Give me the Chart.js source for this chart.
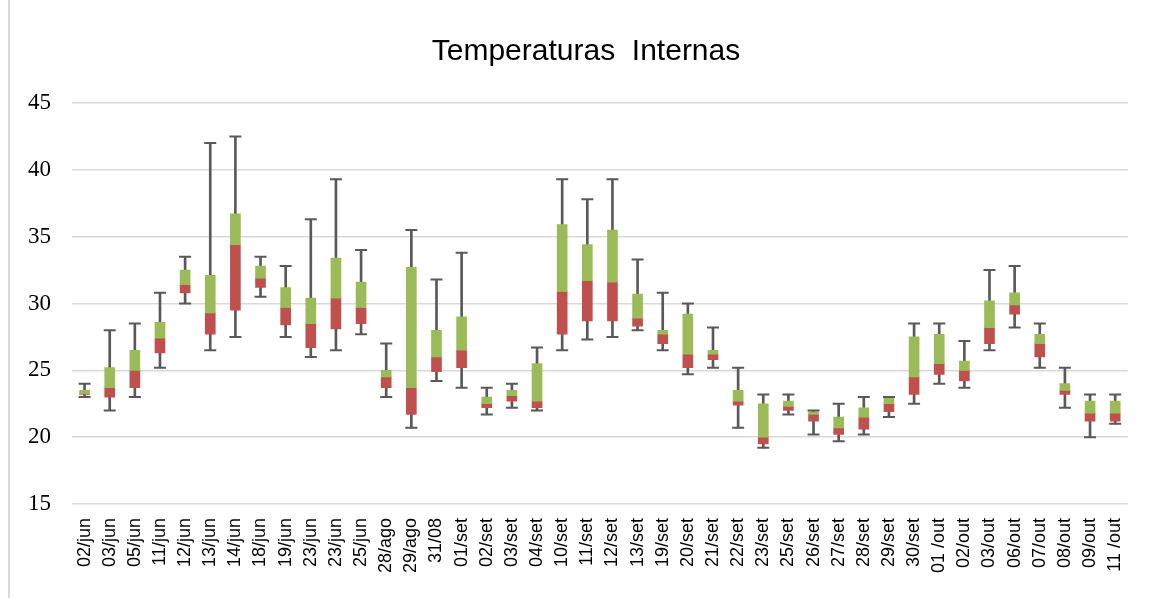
<!DOCTYPE html>
<html>
<head>
<meta charset="utf-8">
<script src="https://cdn.jsdelivr.net/npm/chart.js@4"></script>
<style>
  body { margin: 0; background: #fff; }
  #wrap { position: relative; width: 1151px; height: 598px; }
  #edge { position: absolute; left: 8px; top: 0; width: 2px; height: 598px; background: #d9d9d9; }
</style>
</head>
<body>
<div id="wrap">
  <div id="edge"></div>
  <canvas id="myChart" width="1151" height="598"></canvas>
</div>
<script>
const labels = [
  '02/jun', '03/jun', '05/jun', '11/jun', '12/jun', '13/jun', '14/jun', '18/jun', '19/jun',
  '23/jun', '23/jun', '25/jun', '28/ago', '29/ago', '31/08', '01/set', '02/set', '03/set',
  '04/set', '10/set', '11/set', '12/set', '13/set', '19/set', '20/set', '21/set', '22/set',
  '23/set', '25/set', '26/set', '27/set', '28/set', '29/set', '30/set', '01 /out', '02/out',
  '03/out', '06/out', '07/out', '08/out', '09/out', '11 /out'
];

const minVals = [23.0, 22.0, 23.0, 25.2, 30.0, 26.5, 27.5, 30.5, 27.5, 26.0, 26.5, 27.7, 23.0, 20.7,
  24.2, 23.7, 21.7, 22.2, 22.0, 26.5, 27.3, 27.5, 28.0, 26.5, 24.7, 25.2, 20.7, 19.2, 21.7, 20.2,
  19.7, 20.2, 21.5, 22.5, 24.0, 23.7, 26.5, 28.2, 25.2, 22.2, 20.0, 21.0];
const q1Vals = [23.2, 23.0, 23.7, 26.3, 30.8, 27.7, 29.5, 31.2, 28.4, 26.7, 28.1, 28.5, 23.7, 21.7,
  24.9, 25.2, 22.2, 22.7, 22.2, 27.7, 28.7, 28.7, 28.3, 27.0, 25.2, 25.8, 22.4, 19.5, 22.0, 21.2,
  20.2, 20.6, 21.9, 23.2, 24.7, 24.2, 27.0, 29.2, 26.0, 23.2, 21.2, 21.2];
const medVals = [23.25, 23.7, 25.0, 27.4, 31.4, 29.3, 34.4, 31.9, 29.7, 28.5, 30.4, 29.7, 24.5, 23.7,
  26.0, 26.5, 22.5, 23.1, 22.7, 30.9, 31.7, 31.6, 28.9, 27.7, 26.2, 26.2, 22.7, 20.0, 22.3, 21.7,
  20.7, 21.5, 22.5, 24.5, 25.5, 25.0, 28.2, 29.9, 27.0, 23.5, 21.8, 21.8];
const q3Vals = [23.5, 25.2, 26.5, 28.6, 32.5, 32.1, 36.7, 32.8, 31.2, 30.4, 33.4, 31.6, 25.0, 32.7,
  28.0, 29.0, 23.0, 23.5, 25.5, 35.9, 34.4, 35.5, 30.7, 28.0, 29.2, 26.5, 23.5, 22.5, 22.7, 21.9,
  21.5, 22.2, 23.0, 27.5, 27.7, 25.7, 30.2, 30.8, 27.7, 24.0, 22.7, 22.7];
const maxVals = [24.0, 28.0, 28.5, 30.8, 33.5, 42.0, 42.5, 33.5, 32.8, 36.3, 39.3, 34.0, 27.0, 35.5,
  31.8, 33.8, 23.7, 24.0, 26.7, 39.3, 37.8, 39.3, 33.3, 30.8, 30.0, 28.2, 25.2, 23.2, 23.2, 22.0,
  22.5, 23.0, 23.0, 28.5, 28.5, 27.2, 32.5, 32.8, 28.5, 25.2, 23.2, 23.2];

const yTicks = [15, 20, 25, 30, 35, 40, 45];

const whiskerColor = '#595959';

const data = {
  labels: labels,
  datasets: [
    {
      // whisker stems, drawn behind the boxes
      type: 'bar',
      data: labels.map((l, i) => [minVals[i], maxVals[i]]),
      backgroundColor: whiskerColor,
      barThickness: 2,
      order: 3
    },
    {
      type: 'bar',
      data: labels.map((l, i) => [q1Vals[i], medVals[i]]),
      backgroundColor: '#C0504D',
      barThickness: 10,
      order: 2
    },
    {
      type: 'bar',
      data: labels.map((l, i) => [medVals[i], q3Vals[i]]),
      backgroundColor: '#9BBB59',
      barThickness: 10,
      order: 1
    },
    {
      // caps
      type: 'line',
      data: maxVals,
      showLine: false,
      pointStyle: 'line',
      pointRadius: 6,
      pointBorderWidth: 2,
      pointBorderColor: whiskerColor,
      order: 0
    },
    {
      type: 'line',
      data: minVals,
      showLine: false,
      pointStyle: 'line',
      pointRadius: 6,
      pointBorderWidth: 2,
      pointBorderColor: whiskerColor,
      order: 0
    }
  ]
};

// title in the reference sits a bit right of the canvas centre
const titleShift = {
  id: 'titleShift',
  afterLayout(chart) {
    if (chart.titleBlock) chart.titleBlock.left = 39;
  }
};

const config = {
  type: 'bar',
  data: data,
  plugins: [titleShift],
  options: {
    responsive: false,
    animation: false,
    layout: { padding: { left: 0, right: 18, top: 0, bottom: 0 } },
    scales: {
      x: {
        stacked: true,
        grid: { display: false, drawTicks: false },
        border: { display: false },
        ticks: {
          autoSkip: false,
          maxRotation: 90,
          minRotation: 90,
          padding: 14,
          color: '#000',
          font: { family: 'Liberation Sans', size: 18 }
        },
        afterFit: (scale) => { scale.height = 94; }
      },
      y: {
        min: 15,
        max: 45,
        afterBuildTicks: (scale) => { scale.ticks = yTicks.map(v => ({ value: v })); },
        grid: { color: '#d9d9d9', lineWidth: 1.5, drawTicks: false },
        border: { display: false },
        ticks: {
          padding: 21,
          color: '#000',
          font: { family: 'Liberation Serif', size: 23 }
        },
        afterFit: (scale) => { scale.width = 72; }
      }
    },
    plugins: {
      legend: { display: false },
      tooltip: { enabled: false },
      title: {
        display: true,
        text: 'Temperaturas  Internas',
        color: '#000',
        font: { family: 'Liberation Sans', size: 30, weight: 'normal' },
        padding: { top: 34, bottom: 33 }
      }
    }
  }
};

const myChart = new Chart(document.getElementById('myChart'), config);
</script>
</body>
</html>
